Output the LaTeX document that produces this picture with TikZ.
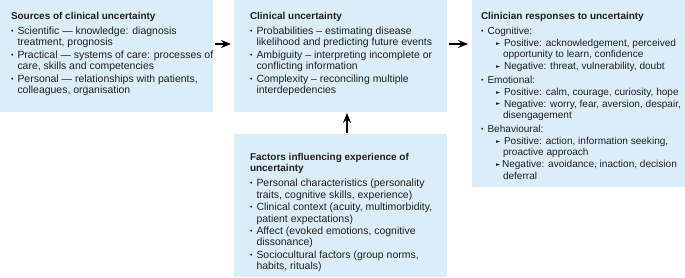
\documentclass[tikz,border=0pt]{standalone}
\usepackage{fontspec}
\setmainfont{Liberation Sans}
\newfontfamily\symfont{DejaVu Sans}
\usetikzlibrary{arrows.meta,calc}
\definecolor{boxblue}{RGB}{218,237,248}
\definecolor{txtcol}{RGB}{35,31,32}
\newcommand{\bul}{\makebox[6.5bp][l]{\raisebox{0.15ex}{\fontsize{7}{7}\selectfont •}}}
\newcommand{\tri}{\makebox[8bp][l]{\raisebox{0.2ex}{\symfont\fontsize{5.5}{6}\selectfont ►}}}
\newcommand{\trinarrow}{\makebox[6bp][l]{\raisebox{0.2ex}{\symfont\fontsize{5.5}{6}\selectfont ►}}}
\newcommand{\ind}[1]{\hspace*{#1}}
\tikzset{
  panel/.style={fill=boxblue, draw=none, inner sep=0pt, outer sep=0pt, anchor=north west},
  paneltext/.style={anchor=north west, inner sep=0pt, outer sep=0pt, align=left,
    text=txtcol, font=\fontsize{10.5}{11.5}\selectfont},
  narrowtext/.style={paneltext, font=\fontsize{10.1}{11.6}\selectfont},
  arr/.style={draw=black, line width=1.3bp, -{Stealth[length=10bp,width=8bp,inset=3.5bp]}}
}
\begin{document}
\begin{tikzpicture}[x=1bp,y=-1bp]
\useasboundingbox (0,0) rectangle (685,277);
% panels
\node[panel, minimum width=213bp, minimum height=112bp] (b1) at (0,0) {};
\node[panel, minimum width=213bp, minimum height=112bp] (b2) at (234,0) {};
\node[panel, minimum width=213bp, minimum height=187bp] (b3) at (472,0) {};
\node[panel, minimum width=213bp, minimum height=143bp] (b4) at (234,134) {};
% texts
\node[paneltext] (t1) at (11,12) {%
\textbf{\fontsize{10}{11.5}\selectfont Sources of clinical uncertainty}\\[3.5bp]
\bul Scientific — knowledge: diagnosis\\
\ind{6.5bp}treatment, prognosis\\[1bp]
\bul Practical — systems of care: processes of\\
\ind{6.5bp}care, skills and competencies\\[1bp]
\bul Personal — relationships with patients,\\
\ind{6.5bp}colleagues, organisation};
\node[paneltext] (t2) at (250,12) {%
\textbf{\fontsize{10}{11.5}\selectfont Clinical uncertainty}\\[3.5bp]
\bul Probabilities – estimating disease\\
\ind{6.5bp}likelihood and predicting future events\\[1bp]
\bul Ambiguity – interpreting incomplete or\\
\ind{6.5bp}conflicting information\\[1bp]
\bul Complexity – reconciling multiple\\
\ind{6.5bp}interdepedencies};
\node[narrowtext] (t3) at (481,12) {%
\textbf{\fontsize{10}{11.5}\selectfont Clinician responses to uncertainty}\\[3.5bp]
\bul Cognitive:\\[0.3bp]
\ind{15bp}\tri Positive: acknowledgement, perceived\\
\ind{22bp}opportunity to learn, confidence\\[0.3bp]
\ind{15bp}\tri Negative: threat, vulnerability, doubt\\[2.2bp]
\bul Emotional:\\[0.3bp]
\ind{15bp}\tri Positive: calm, courage, curiosity, hope\\[0.3bp]
\ind{15bp}\tri Negative: worry, fear, aversion, despair,\\
\ind{22bp}disengagement\\[2.2bp]
\bul Behavioural:\\[0.3bp]
\ind{15bp}\tri Positive: action, information seeking,\\
\ind{22bp}proactive approach\\[0.3bp]
\ind{15bp}\trinarrow Negative: avoidance, inaction, decision\\
\ind{22bp}deferral};
\node[paneltext] (t4) at (250,153) {%
\textbf{\fontsize{10}{11.5}\selectfont Factors influencing experience of}\\
\textbf{\fontsize{10}{11.5}\selectfont uncertainty}\\[3.5bp]
\bul Personal characteristics (personality\\
\ind{6.5bp}traits, cognitive skills, experience)\\[1bp]
\bul Clinical context (acuity, multimorbidity,\\
\ind{6.5bp}patient expectations)\\[1bp]
\bul Affect (evoked emotions, cognitive\\
\ind{6.5bp}dissonance)\\[1bp]
\bul Sociocultural factors (group norms,\\
\ind{6.5bp}habits, rituals)};
% connectors
\draw[arr, shorten <=2bp, shorten >=3bp] ([yshift=-44bp]b1.north east) -- ([yshift=-44bp]b2.north west);
\draw[arr, shorten <=2bp, shorten >=4bp] ([yshift=-44bp]b2.north east) -- ([yshift=-44bp]b3.north west);
\draw[arr, shorten <=1bp, shorten >=1bp] ([xshift=6.5bp]b4.north) -- ([xshift=6.5bp]b2.south);
\end{tikzpicture}
\end{document}
